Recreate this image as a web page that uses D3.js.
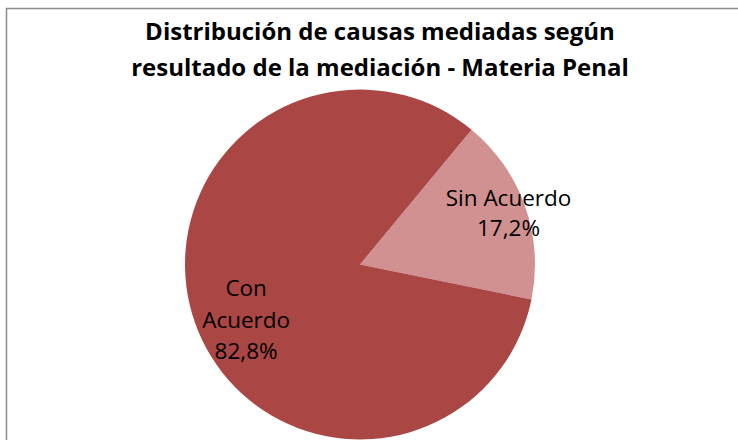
<!DOCTYPE html>
<html>
<head>
<meta charset="utf-8">
<script src="https://cdn.jsdelivr.net/npm/d3@7"></script>
<style>
  html, body { margin: 0; padding: 0; background: #fff; }
  svg { display: block; }
</style>
</head>
<body>
<svg id="chart" width="738" height="440"></svg>
<script>
// chart data
var categories = ["Sin Acuerdo", "Con Acuerdo"];
var values = [17.2, 82.8];
var labelLines = [["Sin Acuerdo", "17,2%"], ["Con", "Acuerdo", "82,8%"]];
var colors = ["#D09190", "#AA4644"];
var titleLines = ["Distribución de causas mediadas según", "resultado de la mediación - Materia Penal"];

var svg = d3.select("#chart");
var width = 738, height = 440;

// outer frame (right/bottom edges run off the picture)
svg.append("rect")
  .attr("x", 6.5).attr("y", 8.5)
  .attr("width", 760).attr("height", 460)
  .attr("fill", "#fff")
  .attr("stroke", "#8c8c8c")
  .attr("stroke-width", 1.5);

svg.append("g").selectAll("text")
  .data(titleLines)
  .join("text")
  .attr("x", 380)
  .attr("y", function (d, i) { return 40 + i * 36; })
  .attr("text-anchor", "middle")
  .attr("font-family", "'Open Sans', sans-serif")
  .attr("font-weight", "bold")
  .attr("font-size", 24)
  .attr("fill", "#000")
  .text(function (d) { return d; });

var cx = 360, cy = 264.5, R = 175;
var deg = Math.PI / 180;

var pie = d3.pie()
  .sort(null)
  .value(function (d) { return d; })
  .startAngle(39.6 * deg)
  .endAngle(39.6 * deg + 2 * Math.PI);

var arc = d3.arc().innerRadius(0).outerRadius(R);
var arcs = pie(values);

var g = svg.append("g").attr("transform", "translate(" + cx + "," + cy + ")");

g.selectAll("path")
  .data(arcs)
  .join("path")
  .attr("d", arc)
  .attr("fill", function (d, i) { return colors[i]; });

// label placement: radius fraction and vertical nudge per slice
var labelRadius = [0.9 * R, 0.69 * R];
var labelNudge = [1, 15];
var lineH = [30, 31.5];

var lab = g.selectAll("g.lab")
  .data(arcs)
  .join("g")
  .attr("class", "lab")
  .attr("transform", function (d, i) {
    var c = d3.arc().innerRadius(labelRadius[i]).outerRadius(labelRadius[i]).centroid(d);
    return "translate(" + c[0] + "," + (c[1] + labelNudge[i]) + ")";
  });

lab.each(function (d, i) {
  var lines = labelLines[i];
  var top = -(lines.length - 1) * lineH[i] / 2;
  d3.select(this).selectAll("text")
    .data(lines)
    .join("text")
    .attr("x", 0)
    .attr("y", function (t, k) { return top + k * lineH[i]; })
    .attr("dy", "0.35em")
    .attr("text-anchor", "middle")
    .attr("font-family", "'Open Sans', sans-serif")
    .attr("font-size", 22.5)
    .attr("fill", "#000")
    .text(function (t) { return t; });
});
</script>
</body>
</html>
